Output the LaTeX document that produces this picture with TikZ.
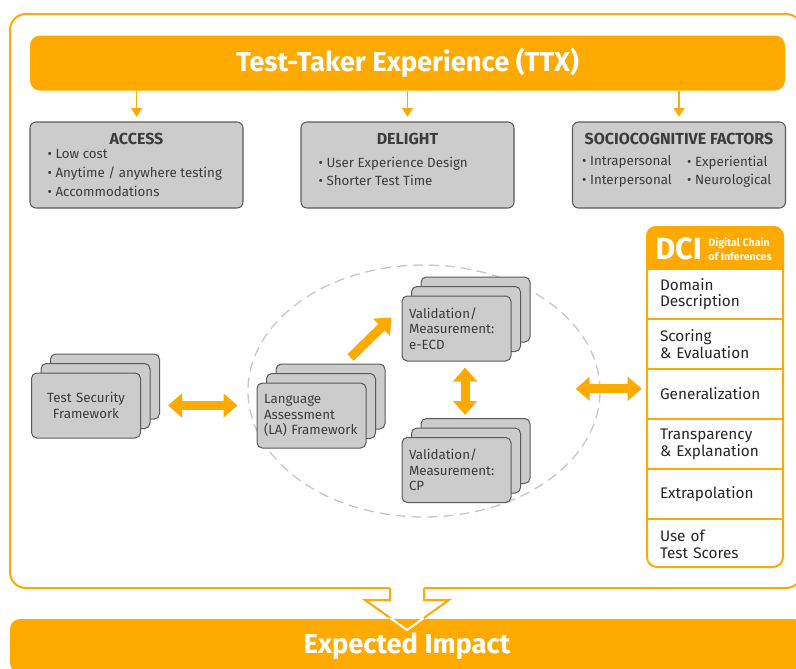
\documentclass[tikz,border=0pt]{standalone}
\usepackage{fontspec}
\setmainfont{Fira Sans}
\usepackage{tikz}
\usetikzlibrary{arrows.meta,shapes.geometric,positioning}

\definecolor{ttxorange}{HTML}{FFAA00}
\definecolor{cardgray}{HTML}{CCCCCC}
\definecolor{cardline}{HTML}{5A5A5A}
\definecolor{inktext}{HTML}{3C3C3C}
\definecolor{ringgray}{HTML}{C8C8C8}

\begin{document}
\begin{tikzpicture}[
		x=0.75pt, y=-0.75pt,
		every node/.style = {font=\fontsize{10}{11.5}\selectfont, text=inktext},
		banner/.style = {fill=ttxorange, rounded corners=7.5pt, text=white, font=\fontsize{20.5}{22}\selectfont\bfseries},
		factor/.style = {draw=cardline, fill=cardgray, rounded corners=4.5pt, line width=0.8pt, minimum width=159.75pt, minimum height=64.5pt},
		factortitle/.style = {font=\fontsize{12}{13}\selectfont\bfseries, inner sep=0pt},
		bullets/.style = {align=left, inner sep=0pt, font=\fontsize{10}{14}\selectfont},
		card/.style = {draw=cardline, fill=cardgray, rounded corners=4pt, line width=0.75pt, minimum width=81.75pt, minimum height=48.75pt, text width=71.25pt, align=left, inner sep=0pt},
		feed/.style = {ttxorange, line width=1.1pt, -{Triangle[length=6.5pt,width=8pt]}},
		fat/.style = {ttxorange, line width=6.75pt, -{Triangle[length=10.5pt,width=17.5pt]}},
		fatboth/.style = {ttxorange, line width=6.75pt, {Triangle[length=10.5pt,width=17.5pt]}-{Triangle[length=10.5pt,width=17.5pt]}},
		dcirow/.style = {minimum width=102pt, minimum height=37.125pt, text width=82.5pt, align=left, inner sep=0pt, text=black!85, font=\fontsize{11.5}{12.5}\selectfont}
		]
		
		% Frame and hollow drop arrow -----------------------------------
		\useasboundingbox (0,0) rectangle (796,668);
		\node[draw=ttxorange, line width=1.5pt, rounded corners=12pt, minimum width=594pt, minimum height=430.5pt] (frame) at (406,301) {};
		\coordinate (drop) at (407,588);
		\fill[white] (drop) ++(-17,-2) -- ++(0,14) -- ++(-25,0) -- ++(42,30) -- ++(42,-30) -- ++(-25,0) -- ++(0,-14) -- cycle;
		\draw[ttxorange, line width=1.5pt] (drop) ++(-17,0) -- ++(0,12) -- ++(-25,0) -- ++(42,30) -- ++(42,-30) -- ++(-25,0) -- ++(0,-12);
		
		% TTX banner and the three factors ------------------------------
		\node[banner, minimum width=566.25pt, minimum height=41.25pt] (ttx) at (407.5,63) {Test-Taker Experience (TTX)};
		
		\node[factor] (access) at (136.5,165) {};
		\node[factor] (delight) at (407.5,165) {};
		\node[factor] (socio) at (679,165) {};
		
		\node[factortitle, anchor=base] (access-t) at ([yshift=-17.25pt]access.north) {ACCESS};
		\node[factortitle, anchor=base] (delight-t) at ([yshift=-17.25pt]delight.north) {DELIGHT};
		\node[factortitle, anchor=base] (socio-t) at ([yshift=-17.25pt]socio.north) {SOCIOCOGNITIVE FACTORS};
		
		\node[bullets, anchor=north west] (access-b) at ([shift={(18,28)}]access.north west)
		{\textbullet\ Low cost\\ \textbullet\ Anytime / anywhere testing\\ \textbullet\ Accommodations};
		\node[bullets, anchor=north west] (delight-b) at ([shift={(18,35)}]delight.north west)
		{\textbullet\ User Experience Design\\ \textbullet\ Shorter Test Time};
		\node[bullets, anchor=north west] (socio-b1) at ([shift={(10,34)}]socio.north west)
		{\textbullet\ Intrapersonal\\ \textbullet\ Interpersonal};
		\node[bullets, anchor=north west] (socio-b2) at ([shift={(115,34)}]socio.north west)
		{\textbullet\ Experiential\\ \textbullet\ Neurological};
		
		\draw[feed, shorten >=3.5pt] (ttx.south -| access) -- (access.north);
		\draw[feed, shorten >=3.5pt] (ttx.south -| delight) -- (delight.north);
		\draw[feed, shorten >=3.5pt] (ttx.south -| socio) -- (socio.north);
		
		% Framework cores -----------------------------------------------
		\node[draw=ringgray, line width=1pt, dash pattern=on 7.5pt off 4.5pt, ellipse, minimum width=264pt, minimum height=189pt, inner sep=0pt] (core) at (424,391) {};
		
		\coordinate (tsf-at) at (86,405.5);
		\coordinate (la-at) at (311.5,415.5);
		\coordinate (ecd-at) at (456.5,328.5);
		\coordinate (cp-at) at (456.5,470);
		\foreach \s in {tsf,la,ecd,cp}
		\foreach \k in {2,1}
		\node[card] (\s-\k) at ([shift={(9.5*\k,-9.5*\k)}]\s-at) {};
		
		\node[card, align=center] (tsf) at (tsf-at) {Test Security\\Framework};
		\node[card] (la) at (la-at) {Language\\Assessment\\(LA) Framework};
		\node[card] (ecd) at (ecd-at) {Validation/\\Measurement:\\e-ECD};
		\node[card] (cp) at (cp-at) {Validation/\\Measurement:\\CP};
		
		% Digital chain of inferences -----------------------------------
		\node[draw=ttxorange, line width=1.5pt, fill=white, rounded corners=7.5pt, minimum width=102pt, minimum height=255pt, inner sep=0pt] (dci) at (715,397) {};
		\begin{scope}
			\clip (dci.north west) rectangle ([yshift=-32.25pt]dci.north east);
			\fill[ttxorange, rounded corners=7.5pt] (dci.north west) rectangle (dci.south east);
		\end{scope}
		\node[anchor=west, inner sep=0pt, text=white, font=\fontsize{23}{23}\selectfont\bfseries] (dcitag) at (655,249) {DCI};
		\node[right=4.5pt of dcitag, inner sep=0pt, text=white, align=left, font=\fontsize{8}{10.5}\selectfont\bfseries] (dciname) {Digital Chain\\of Inferences};
		
		\node[dcirow, anchor=north] (dom) at ([yshift=-32.25pt]dci.north) {Domain\\Description};
		\node[dcirow, below=0pt of dom] (score) {Scoring\\\& Evaluation};
		\node[dcirow, below=0pt of score] (gen) {Generalization};
		\node[dcirow, below=0pt of gen] (trans) {Transparency\\\& Explanation};
		\node[dcirow, below=0pt of trans] (extra) {Extrapolation};
		\node[dcirow, below=0pt of extra] (use) {Use of\\Test Scores};
		\foreach \r in {dom,score,gen,trans,extra}
		\draw[ttxorange, line width=1.2pt] (\r.south west) -- (\r.south east);
		
		% Thick arrows --------------------------------------------------
		\draw[fatboth, shorten <=20.25pt, shorten >=14.25pt] (tsf.east) -- (tsf.east -| la.west);
		\draw[fat] ([shift={(-16,-25)}]la.north east) -- ([shift={(-10,-44)}]ecd.south west);
		\draw[fatboth, shorten <=4.5pt, shorten >=2.25pt] ([xshift=6.4pt]ecd.south) -- ([xshift=6.4pt]ecd.south |- cp-2.north);
		\draw[fatboth, shorten >=3.75pt] ([xshift=-18.75pt,yshift=4pt]gen.west -| core.east) -- ([yshift=4pt]gen.west);
		
		% Impact bar ----------------------------------------------------
		\node[banner, minimum width=595.5pt, minimum height=40.5pt] (impact) at (407,646) {Expected Impact};
		\draw[white, line width=1.5pt] (drop) ++(-16.8,30) -- ++(16.8,12) -- ++(16.8,-12);
	\end{tikzpicture}
\end{document}
